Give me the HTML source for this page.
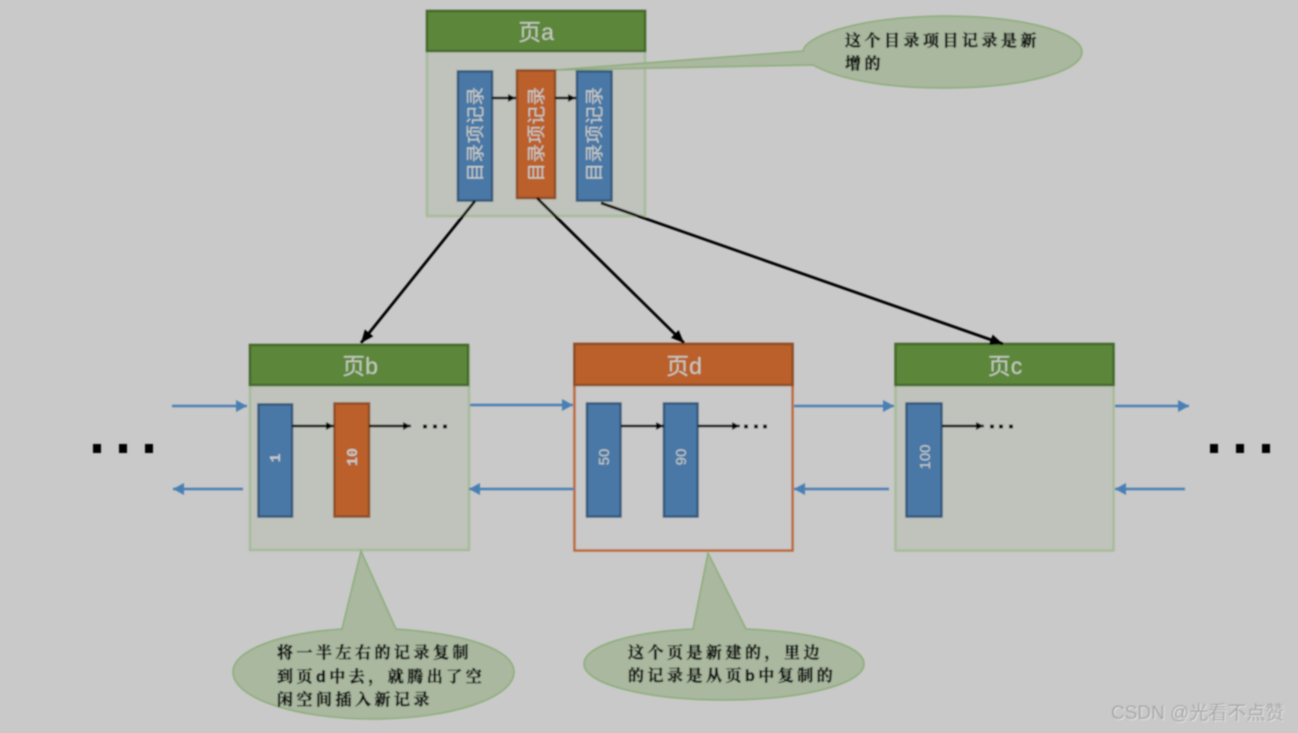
<!DOCTYPE html>
<html><head><meta charset="utf-8">
<style>
html,body{margin:0;padding:0;background:#c9c9c9;width:1298px;height:733px;overflow:hidden}
svg{display:block}
.h{font-family:"Liberation Sans","Noto Sans CJK SC",sans-serif;font-size:23px;fill:#c6cbbf;text-anchor:middle}
.v{font-family:"Liberation Sans","Noto Sans CJK SC",sans-serif;font-size:18.500px;letter-spacing:.5px;fill:#c9cdc8;text-anchor:middle}
.n{font-family:"Liberation Mono",monospace;font-weight:bold;font-size:15px;fill:#c9ccc8;text-anchor:middle}
.n2{font-family:"Liberation Sans",sans-serif;font-size:15px;fill:#c9ccc8;text-anchor:middle}
.c{font-family:"Liberation Sans","Noto Serif CJK SC",serif;font-weight:bold;font-size:16px;fill:#0c0e0a;stroke:#0c0e0a;stroke-width:.45px;letter-spacing:3.500px}
.w{font-family:"Liberation Sans","Noto Sans CJK SC",sans-serif;font-size:19px;fill:#a6a6a6}
</style></head><body>
<svg width="1298" height="733" viewBox="0 0 1298 733" xmlns="http://www.w3.org/2000/svg">
<defs>
<filter id="b" x="-2%" y="-2%" width="104%" height="104%"><feGaussianBlur stdDeviation="0.75"/></filter>
<marker id="ak" markerUnits="userSpaceOnUse" markerWidth="14" markerHeight="12" refX="13" refY="6" orient="auto"><path d="M0,0.5 L13,6 L0,11.5z" fill="#000"/></marker>
<marker id="as" markerUnits="userSpaceOnUse" markerWidth="9" markerHeight="9" refX="8" refY="4.500" orient="auto"><path d="M0,0.5 L8,4.500 L0,8.500z" fill="#000"/></marker>
<marker id="ab" markerUnits="userSpaceOnUse" markerWidth="12" markerHeight="13" refX="11" refY="6.500" orient="auto"><path d="M0,0.5 L11,6.500 L0,12.500z" fill="#4a80b4"/></marker>
</defs>
<rect width="1298" height="733" fill="#c9c9c9"/>
<g filter="url(#b)">
<!-- page a -->
<rect x="427" y="11" width="218" height="205" fill="#bfc3bb" stroke="#a8bc9a" stroke-width="2.500"/>
<rect x="427" y="11" width="218" height="40" fill="#5b873b" stroke="#44692b" stroke-width="2.500"/>
<text class="h" x="536" y="40">页a</text>
<!-- page b -->
<rect x="250" y="346" width="219" height="204" fill="#bfc3bb" stroke="#a8bc9a" stroke-width="2.500"/>
<rect x="250" y="345" width="218" height="40" fill="#5b873b" stroke="#44692b" stroke-width="2.500"/>
<text class="h" x="360" y="374">页b</text>
<!-- page d -->
<rect x="574.500" y="344" width="218" height="206.500" fill="#c9c9c9" stroke="#bd6a3a" stroke-width="2.500"/>
<rect x="574.500" y="344" width="218" height="41" fill="#bb612c" stroke="#8f4d25" stroke-width="2.500"/>
<text class="h" x="684" y="374">页d</text>
<!-- page c -->
<rect x="895.500" y="344" width="218" height="206.500" fill="#bfc3bb" stroke="#a8bc9a" stroke-width="2.500"/>
<rect x="895.500" y="344" width="218" height="41" fill="#5b873b" stroke="#44692b" stroke-width="2.500"/>
<text class="h" x="1005" y="374">页c</text>

<!-- callout tails and ellipses -->
<path d="M555,70 L803,51 C806,35 861,17 943,16 C1026,16 1082,33 1082,52 C1082,71 1026,88 943,88 C881,88 836,78 813,65 Z" fill="#a9b89f" stroke="#8cad78" stroke-width="1.500"/>
<path d="M361,551 L342,629 C280,633 233,650 233,672 C233,698 295,719 373,719 C451,719 514,698 514,672 C514,650 468,634 396,629 Z" fill="#a9b89f" stroke="#8cad78" stroke-width="1.500"/>
<path d="M708,553 L693,629 C630,632 584,646 584,664 C584,684 646,700 724,700 C802,700 864,684 864,664 C864,646 818,632 746,629 Z" fill="#a9b89f" stroke="#8cad78" stroke-width="1.500"/>

<!-- records page a -->
<rect x="458" y="71.500" width="34" height="129" fill="#4a78a6" stroke="#36597c" stroke-width="2.500"/>
<rect x="517" y="70.500" width="38" height="127.500" fill="#bb612c" stroke="#8f4d25" stroke-width="2.500"/>
<rect x="577" y="71.500" width="34.500" height="129" fill="#4a78a6" stroke="#36597c" stroke-width="2.500"/>
<text class="v" transform="translate(482,134) rotate(-90)">目录项记录</text>
<text class="v" transform="translate(543,134) rotate(-90)">目录项记录</text>
<text class="v" transform="translate(601,134) rotate(-90)">目录项记录</text>
<path d="M492,98 H516" stroke="#000" stroke-width="2.500" fill="none" marker-end="url(#as)"/>
<path d="M555,98 H576" stroke="#000" stroke-width="2.500" fill="none" marker-end="url(#as)"/>

<!-- records lower -->
<rect x="258.500" y="404.500" width="33.500" height="112" fill="#4a78a6" stroke="#36597c" stroke-width="2.500"/>
<rect x="334.500" y="403.500" width="34.500" height="113" fill="#bb612c" stroke="#8f4d25" stroke-width="2.500"/>
<rect x="587" y="403.500" width="33.500" height="113" fill="#4a78a6" stroke="#36597c" stroke-width="2.500"/>
<rect x="664" y="403.500" width="33.500" height="113" fill="#4a78a6" stroke="#36597c" stroke-width="2.500"/>
<rect x="906.500" y="403.500" width="35" height="113" fill="#4a78a6" stroke="#36597c" stroke-width="2.500"/>
<text class="n" transform="translate(280,458) rotate(-90)">1</text>
<text class="n" transform="translate(357,457) rotate(-90)">10</text>
<text class="n2" transform="translate(609,457) rotate(-90)">50</text>
<text class="n2" transform="translate(686,457) rotate(-90)">90</text>
<text class="n2" transform="translate(930,457) rotate(-90)">100</text>
<path d="M292,426 H334" stroke="#000" stroke-width="2.500" marker-end="url(#as)"/>
<path d="M369,426 H411" stroke="#000" stroke-width="2.500" marker-end="url(#as)"/>
<path d="M621,426 H664" stroke="#000" stroke-width="2.500" marker-end="url(#as)"/>
<path d="M698,426 H740" stroke="#000" stroke-width="2.500" marker-end="url(#as)"/>
<path d="M942,426 H984" stroke="#000" stroke-width="2.500" marker-end="url(#as)"/>
<g fill="#000">
<rect x="423" y="424.500" width="4" height="4"/><rect x="433" y="424.500" width="4" height="4"/><rect x="443" y="424.500" width="4" height="4"/>
<rect x="744" y="424.500" width="4" height="4"/><rect x="754" y="424.500" width="4" height="4"/><rect x="763" y="424.500" width="4" height="4"/>
<rect x="990" y="424.500" width="4" height="4"/><rect x="999" y="424.500" width="4" height="4"/><rect x="1009" y="424.500" width="4" height="4"/>
</g>

<!-- big arrows -->
<path d="M475,201 L361,343" stroke="#000" stroke-width="2.800" fill="none" marker-end="url(#ak)"/>
<path d="M537,198 L684,343" stroke="#000" stroke-width="2.800" fill="none" marker-end="url(#ak)"/>
<path d="M601,203 L1003,344" stroke="#000" stroke-width="2.800" fill="none" marker-end="url(#ak)"/>

<!-- blue arrows -->
<g stroke="#4a80b4" stroke-width="2.500" fill="none">
<path d="M172,406 H247" marker-end="url(#ab)"/>
<path d="M470,405 H573" marker-end="url(#ab)"/>
<path d="M794,406 H894" marker-end="url(#ab)"/>
<path d="M1115,406 H1189" marker-end="url(#ab)"/>
<path d="M243,489 H173" marker-end="url(#ab)"/>
<path d="M574,489 H469" marker-end="url(#ab)"/>
<path d="M889,489 H794" marker-end="url(#ab)"/>
<path d="M1185,489 H1115" marker-end="url(#ab)"/>
</g>

<!-- dots -->
<g fill="#000">
<rect x="93" y="444" width="8" height="9"/><rect x="119" y="444" width="8" height="9"/><rect x="145" y="444" width="8" height="9"/>
<rect x="1210" y="444" width="8" height="9"/><rect x="1236" y="444" width="8" height="9"/><rect x="1262" y="444" width="8" height="9"/>
</g>

<!-- callout text -->
<text class="c" x="845" y="46">这个目录项目记录是新</text>
<text class="c" x="845" y="69">增的</text>
<text class="c" x="277" y="658">将一半左右的记录复制</text>
<text class="c" x="277" y="682">到页d中去，就腾出了空</text>
<text class="c" x="277" y="705">闲空间插入新记录</text>
<text class="c" x="628" y="658">这个页是新建的，里边</text>
<text class="c" x="628" y="681">的记录是从页b中复制的</text>

<!-- watermark -->
<text class="w" x="1112" y="720" style="fill:#e4e4e4">CSDN @光看不点赞</text>
<text class="w" x="1111" y="719">CSDN @光看不点赞</text>
</g>
</svg>
</body></html>
